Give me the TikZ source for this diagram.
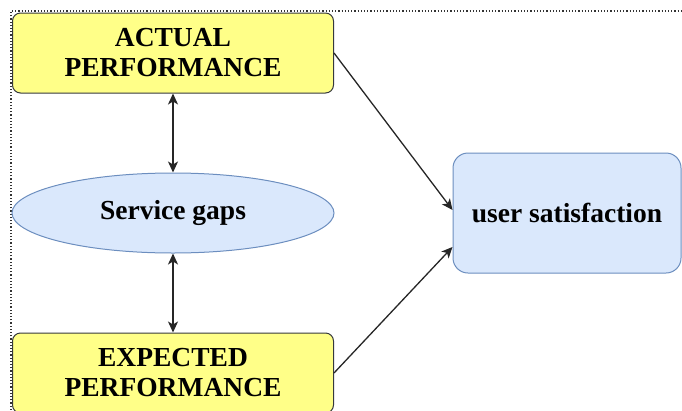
\documentclass[tikz,border=0pt]{standalone}
\usepackage{fontspec}
\setmainfont{Liberation Serif}
\usetikzlibrary{arrows.meta,shapes.geometric}
\definecolor{yfill}{HTML}{FFFF88}
\definecolor{ydraw}{HTML}{36393D}
\definecolor{bfill}{HTML}{DAE8FC}
\definecolor{bdraw}{HTML}{6C8EBF}
\begin{document}
\begin{tikzpicture}[x=1pt,y=-1pt,
  lbl/.style={font=\fontsize{27.5}{30}\selectfont\bfseries, align=center, inner sep=0pt},
  ybox/.style={lbl, draw=ydraw, fill=yfill, rounded corners=8pt, minimum width=321pt, minimum height=80pt, line width=1pt},
  bell/.style={lbl, ellipse, draw=bdraw, fill=bfill, minimum width=322pt, minimum height=80pt, line width=1pt},
  bbox/.style={lbl, draw=bdraw, fill=bfill, rounded corners=15pt, minimum width=228pt, minimum height=120pt, line width=1pt},
  arr/.style={-{Stealth[length=11pt,width=10pt,inset=3pt]}, line width=1.3pt, black!85},
  darr/.style={{Stealth[length=11pt,width=10pt,inset=3pt]}-{Stealth[length=11pt,width=10pt,inset=3pt]}, line width=1.3pt, black!85},
  frame/.style={dotted, line width=1.2pt, black!80}
]
\useasboundingbox (0,0) rectangle (682,410);
\clip (0,0) rectangle (682,410);
\draw[frame] (11,410) -- (11,11) -- (682,11);
\node[ybox] (actual) at (173,53) {ACTUAL\\PERFORMANCE};
\node[bell] (gaps) at (173,213) {Service gaps};
\node[ybox] (expected) at (173,373) {EXPECTED\\PERFORMANCE};
\node[bbox] (us) at (567,213) {user satisfaction};
\draw[darr] (actual.south) -- (gaps.north);
\draw[darr] (gaps.south) -- (expected.north);
\draw[arr] (actual.east) -- ([yshift=3pt]us.west);
\draw[arr] (expected.east) -- ([yshift=-34pt]us.west);
\end{tikzpicture}
\end{document}
